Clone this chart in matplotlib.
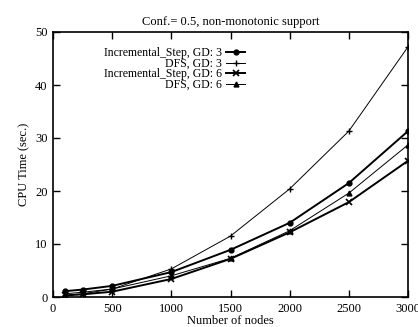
import matplotlib
matplotlib.use("Agg")
import matplotlib.pyplot as plt

# data
nodes = [100, 250, 500, 1000, 1500, 2000, 2500, 3000]
inc_gd3 = [1.1, 1.4, 2.1, 4.7, 8.9, 14.0, 21.5, 31.3]
dfs_gd3 = [0.3, 0.6, 1.5, 5.3, 11.5, 20.4, 31.3, 47.2]
inc_gd6 = [0.3, 0.5, 1.0, 3.4, 7.2, 12.2, 17.9, 25.7]
dfs_gd6 = [0.6, 0.9, 1.5, 4.0, 7.3, 12.5, 19.6, 28.7]

x_ticks = [0, 500, 1000, 1500, 2000, 2500, 3000]
y_ticks = [0, 10, 20, 30, 40, 50]

plt.rcParams["font.family"] = ["Liberation Serif", "DejaVu Serif"]
fs = 9

fig = plt.figure(figsize=(4.18, 3.27), dpi=100)
ax = fig.add_axes([53 / 418, 1 - 297 / 327, (408 - 53) / 418, (297 - 32) / 327])

ax.plot(nodes, inc_gd3, color="black", lw=1.4, marker="o", ms=3.5,
        label="Incremental_Step, GD: 3")
ax.plot(nodes, dfs_gd3, color="black", lw=0.7, marker="+", ms=4,
        label="DFS, GD: 3")
ax.plot(nodes, inc_gd6, color="black", lw=1.4, marker="x", ms=4, mew=1.2,
        label="Incremental_Step, GD: 6")
ax.plot(nodes, dfs_gd6, color="black", lw=0.7, marker="^", ms=3.5,
        label="DFS, GD: 6")

ax.set_xlim(0, 3000)
ax.set_ylim(0, 50)
ax.set_xticks(x_ticks)
ax.set_yticks(y_ticks)
ax.tick_params(direction="in", top=True, right=True, labelsize=fs, length=5,
               width=1, pad=4)
for s in ax.spines.values():
    s.set_linewidth(1.2)

ax.set_title("Conf.= 0.5, non-monotonic support", fontsize=fs, pad=5)
ax.set_xlabel("Number of nodes", fontsize=fs, labelpad=0)
ax.set_ylabel("CPU Time (sec.)", fontsize=fs, labelpad=3)

# gnuplot-style key: right-aligned labels, sample line on the right
leg = ax.legend(loc="upper right", bbox_to_anchor=(0.555, 0.96), frameon=False,
                markerfirst=False, fontsize=8.5, handlelength=1.6,
                handletextpad=0.4, labelspacing=-0.12, borderaxespad=0)

fig.savefig("out.png", dpi=100)
